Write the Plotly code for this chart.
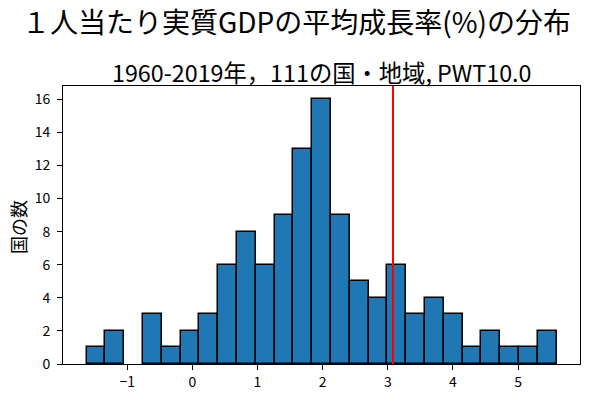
import numpy as np
import plotly.graph_objects as go

# histogram data (counts per bin), bin range and reference line
counts = [1, 2, 0, 3, 1, 2, 3, 6, 8, 6, 9, 13, 16, 9, 5, 4, 6, 3, 4, 3, 1, 2, 1, 1, 2]
bin_start = -1.625
bin_end = 5.59
ref_value = 3.08
x_ticks = [-1, 0, 1, 2, 3, 4, 5]
y_ticks = [0, 2, 4, 6, 8, 10, 12, 14, 16]

title = "１人当たり実質GDPの平均成長率(%)の分布"
subtitle = "1960-2019年，111の国・地域, PWT10.0"
ylabel = "国の数"

n = len(counts)
edges = np.linspace(bin_start, bin_end, n + 1)
width = edges[1] - edges[0]
centers = (edges[:-1] + edges[1:]) / 2
span = bin_end - bin_start
xr = [bin_start - 0.05 * span, bin_end + 0.05 * span]
yr = [0, max(counts) * 1.05]

FONT = "Noto Sans CJK JP, DejaVu Sans, sans-serif"
PW, PH = 517, 278  # plot area size in px

fig = go.Figure()
fig.add_trace(go.Bar(
    x=centers, y=counts, width=width,
    marker=dict(color="#1f77b4",
                line=dict(color="black", width=[1.5 if c > 0 else 0 for c in counts])),
    showlegend=False, hoverinfo="skip",
))
fig.add_shape(type="line", xref="x", yref="paper", x0=ref_value, x1=ref_value,
              y0=0, y1=1, line=dict(color="red", width=2))

fig.update_layout(
    width=589, height=397,
    margin=dict(l=63, r=589 - 63 - PW, t=86, b=397 - 86 - PH),
    plot_bgcolor="white", paper_bgcolor="white",
    font=dict(family=FONT, color="black", size=13),
    bargap=0,
    annotations=[
        dict(text=title, xref="paper", yref="paper", x=(296 - 63) / PW, y=1 + (86 - 21) / PH,
             xanchor="center", yanchor="middle", showarrow=False, font=dict(size=28)),
        dict(text=subtitle, xref="paper", yref="paper", x=0.5, y=1 + (86 - 72) / PH,
             xanchor="center", yanchor="middle", showarrow=False, font=dict(size=23.3)),
        dict(text=ylabel, xref="paper", yref="paper", x=(18 - 63) / PW, y=(364 - 227) / PH,
             xanchor="center", yanchor="middle", showarrow=False, textangle=-90, font=dict(size=18)),
    ],
)
fig.update_xaxes(range=xr, tickvals=x_ticks, ticktext=[str(v).replace("-", "−") for v in x_ticks],
                 ticks="outside", ticklen=5, tickcolor="black", showline=True, mirror=True,
                 linecolor="black", linewidth=1, showgrid=False, zeroline=False, automargin=False,
                 tickfont=dict(size=14, family=FONT))
fig.update_yaxes(range=yr, tickvals=y_ticks, ticks="outside", ticklen=5, tickcolor="black",
                 showline=True, mirror=True, linecolor="black", linewidth=1, showgrid=False,
                 zeroline=False, automargin=False, ticklabelstandoff=4,
                 tickfont=dict(size=14, family=FONT))

fig.write_html("out.html", config={"displayModeBar": False},
               post_script="document.body.style.margin='0';")
